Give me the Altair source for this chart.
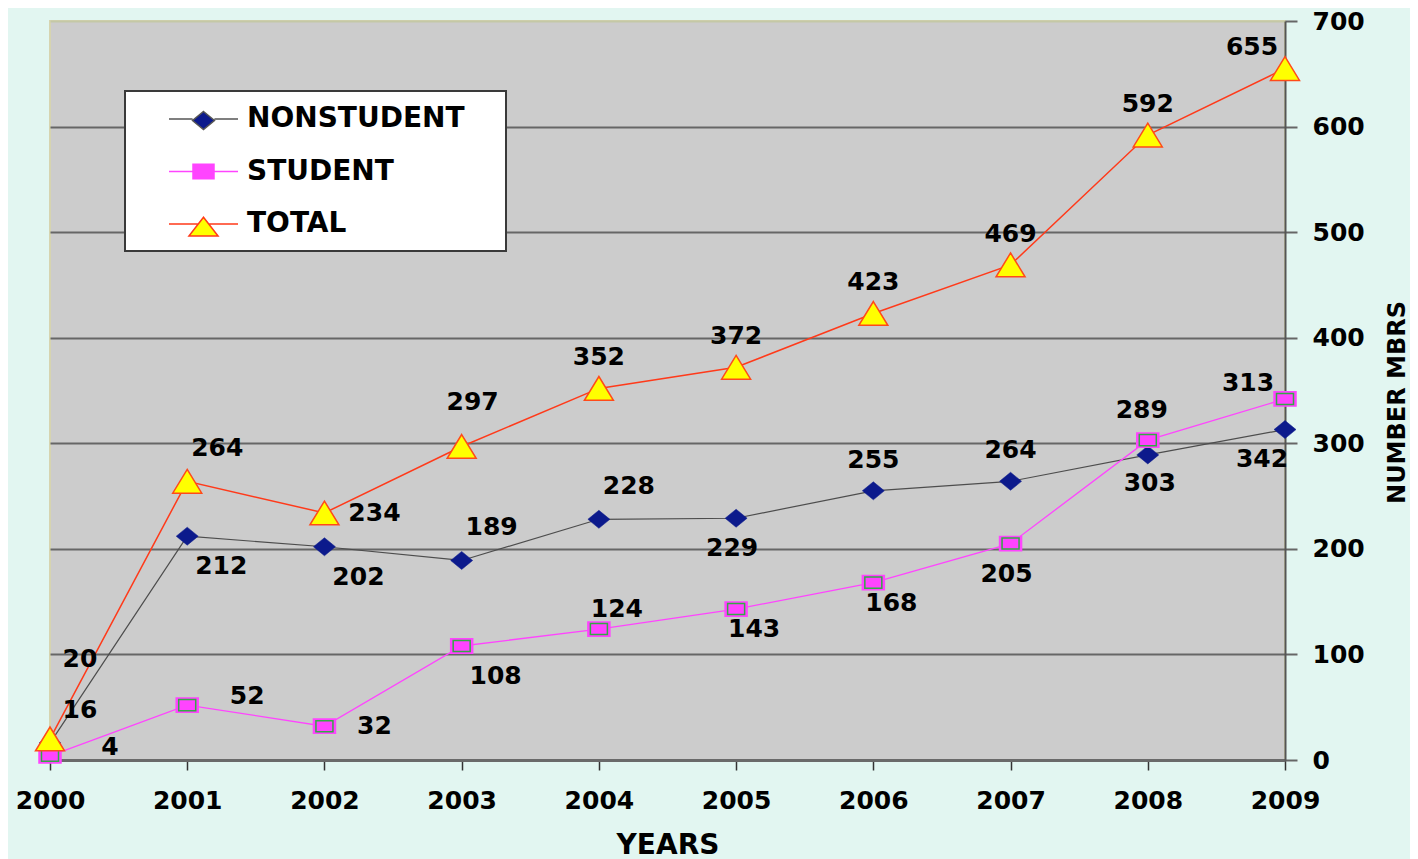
import altair as alt
import pandas as pd

# ---------------- data ----------------
years = [2000, 2001, 2002, 2003, 2004, 2005, 2006, 2007, 2008, 2009]
nonstudent = [16, 212, 202, 189, 228, 229, 255, 264, 289, 313]
student = [4, 52, 32, 108, 124, 143, 168, 205, 303, 342]
total = [20, 264, 234, 297, 352, 372, 423, 469, 592, 655]
series_names = ["NONSTUDENT", "STUDENT", "TOTAL"]
y_ticks = [0, 100, 200, 300, 400, 500, 600, 700]

# data-label placement (like Excel's per-label position)
nonstudent_label_pos = ["above_right", "below_right", "below_right", "above_right", "above_right",
                        "below", "above", "above", "above_hi", "above_left_hi"]
student_label_pos = ["right_far", "right_far", "right", "below_right", "above_right_near",
                     "below_right_near", "below_right_near", "below", "below_hi", "below_left"]
total_label_pos = ["far_above_right", "above_right", "right", "above_hi_right", "above",
                   "above", "above", "above", "above", "above_left"]

label_offsets = {
    "above": (0, -31), "above_hi": (-6, -45), "above_hi_right": (11, -44),
    "above_right": (30, -33), "above_right_near": (18, -20),
    "far_above_right": (30, -80), "above_left": (-33, -22), "above_left_hi": (-37, -47),
    "below": (-4, 30), "below_hi": (2, 43), "below_right": (34, 30),
    "below_right_near": (18, 20), "below_left": (-23, 60),
    "right": (50, 0), "right_far": (60, -9),
}

rows = []
for name, vals, pos in [("NONSTUDENT", nonstudent, nonstudent_label_pos),
                        ("STUDENT", student, student_label_pos),
                        ("TOTAL", total, total_label_pos)]:
    for yr, v, p in zip(years, vals, pos):
        rows.append({"series": name, "year": yr, "value": v, "pos": p})
df = pd.DataFrame(rows)

FONT = "DejaVu Sans"

diamond = "M0,-0.82L1,0L0,0.82L-1,0Z"
rect = "M-1,-0.65L1,-0.65L1,0.65L-1,0.65Z"
triangle = "M0,-0.82L1,0.82L-1,0.82Z"

legend_paths = [
    "M-2.3,0L-0.73,0M0.73,0L2.3,0M0,-0.5L0.73,0.1L0,0.7L-0.73,0.1Z",
    "M-2.3,0L-0.7,0M0.7,0L2.3,0M-0.7,-0.48L0.7,-0.48L0.7,0.48L-0.7,0.48Z",
    "M-2.3,0L-0.35,0M0.35,0L2.3,0M0,-0.45L0.97,0.8L-0.97,0.8Z",
]

x_enc = alt.X(
    "year:Q",
    scale=alt.Scale(domain=[2000, 2009], nice=False, zero=False),
    axis=alt.Axis(
        values=years, format="d", title="YEARS", grid=False,
        labelFont=FONT, labelFontSize=25, labelFontWeight="bold", labelColor="black",
        labelPadding=18, labelFlush=False, labelOverlap=False,
        tickSize=10, tickColor="#333333", tickWidth=1.5,
        domainColor="#6a6a6a", domainWidth=3,
        titleFont=FONT, titleFontSize=28, titleFontWeight="bold", titleColor="black",
        titlePadding=18,
    ),
)
y_enc = alt.Y(
    "value:Q",
    scale=alt.Scale(domain=[0, 700], nice=False),
    axis=alt.Axis(
        orient="right", values=y_ticks, title="NUMBER MBRS", grid=True,
        gridColor=alt.condition("datum.value == 700", alt.value("#c4c8a6"), alt.value("#666666")),
        gridWidth=2,
        labelFont=FONT, labelFontSize=25, labelFontWeight="bold", labelColor="black",
        labelPadding=15, labelAlign="left",
        tickSize=12, tickColor="#666666", tickWidth=2,
        domainColor="#555555", domainWidth=2,
        titleFont=FONT, titleFontSize=24, titleFontWeight="bold", titleColor="black",
        titleAngle=270, titleX=112, titleY=381, titleAlign="center", titleBaseline="middle",
    ),
)

base = alt.Chart(df)


def sel(name):
    return base.transform_filter(alt.datum.series == name)


line_ns = sel("NONSTUDENT").mark_line(color="#4d4d4d", strokeWidth=1.2).encode(x=x_enc, y=y_enc)
line_st = sel("STUDENT").mark_line(color="#ff44ff", strokeWidth=1.3).encode(x=x_enc, y=y_enc)
line_tot = sel("TOTAL").mark_line(color="#ff3a1a", strokeWidth=1.5).encode(x=x_enc, y=y_enc)

pt_ns = sel("NONSTUDENT").mark_point(shape=diamond, size=484, filled=True, fill="#0c1a8c",
                                     stroke="#0c1a8c", strokeWidth=0.5, opacity=1).encode(x=x_enc, y=y_enc)
pt_st_outer = sel("STUDENT").mark_point(shape=rect, size=484, filled=True, fill="#ff44ff",
                                        stroke="#ff44ff", strokeWidth=1.5, opacity=1).encode(x=x_enc, y=y_enc)
pt_st_inner = sel("STUDENT").mark_point(shape=rect, size=289, filled=False, stroke="#33aa44",
                                        strokeWidth=1.5, opacity=1).encode(x=x_enc, y=y_enc)
pt_tot = sel("TOTAL").mark_point(shape=triangle, size=841, filled=True, fill="#ffff00",
                                 stroke="#ff4a1a", strokeWidth=1.5, opacity=1).encode(x=x_enc, y=y_enc)

text_layers = []
for name, (dx, dy) in label_offsets.items():
    text_layers.append(
        base.transform_filter(alt.datum.pos == name).mark_text(
            dx=dx, dy=dy, font=FONT, fontSize=25, fontWeight="bold", color="black",
            align="center", baseline="middle",
        ).encode(x=x_enc, y=y_enc, text="value:Q")
    )

leg = alt.Legend(
    title=None, orient="none", legendX=75, legendY=70,
    fillColor="white", strokeColor="#3a3a3a", padding=12,
    symbolSize=900, symbolStrokeWidth=1.5, symbolOffset=50.5,
    labelFont=FONT, labelFontSize=28, labelFontWeight="bold", labelColor="black",
    labelOffset=27.5, rowPadding=22.5, labelLimit=500,
    labelExpr="datum.label + '   \u200b'",
)
legend_layer = base.transform_filter("datum.year < 0").mark_point(
    size=900, filled=True, opacity=1, strokeWidth=1.5
).encode(
    x=x_enc, y=y_enc,
    shape=alt.Shape("series:N", scale=alt.Scale(domain=series_names, range=legend_paths), legend=leg),
    fill=alt.Fill("series:N", scale=alt.Scale(domain=series_names, range=["#0c1a8c", "#ff44ff", "#ffff00"]), legend=leg),
    stroke=alt.Stroke("series:N", scale=alt.Scale(domain=series_names, range=["#555555", "#ff44ff", "#ff3a1a"]), legend=leg),
)

chart = alt.layer(
    line_ns, line_st, line_tot,
    pt_ns, pt_st_outer, pt_st_inner, pt_tot,
    *text_layers, legend_layer,
).properties(
    width=1235, height=739,
    padding={"left": 42, "top": 13, "right": 125, "bottom": 99},
    autosize=alt.AutoSizeParams(type="none"),
    background="#e2f6f1",
).configure_view(
    fill="#cccccc", stroke="#d6d4b0", strokeWidth=2
).configure_legend(strokeWidth=2)

chart.save("out.html", embed_options={"renderer": "svg", "actions": False})
